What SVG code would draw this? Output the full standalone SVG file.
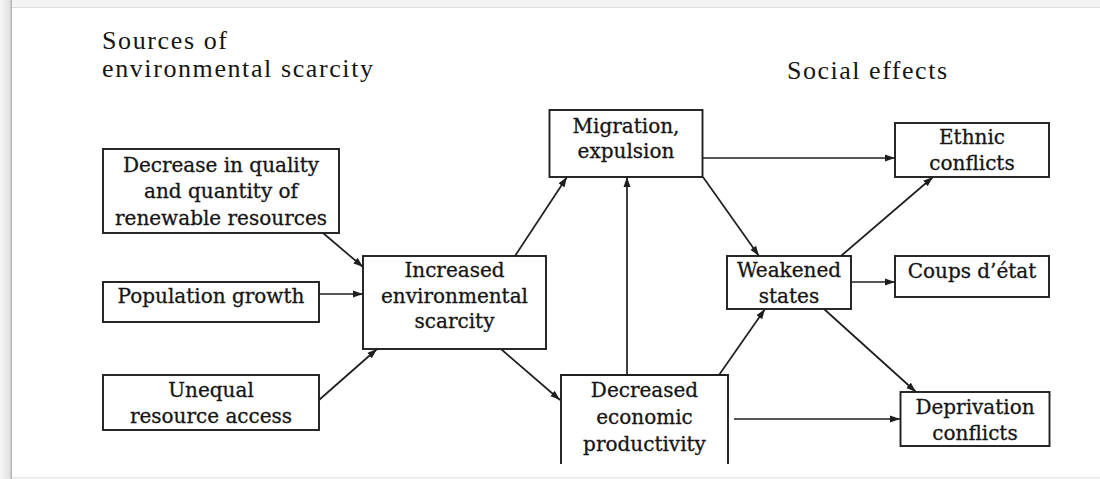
<svg xmlns="http://www.w3.org/2000/svg" width="1100" height="479" viewBox="0 0 1100 479">
<style>
.box{fill:#fff;stroke:#1e1e1e;stroke-width:1.9}
.t{font-family:"DejaVu Serif","Liberation Serif",serif;font-size:20px;fill:#151515;stroke:#151515;stroke-width:0.3;text-anchor:middle}
.h{font-family:"Liberation Serif","Times New Roman",serif;font-size:26px;fill:#151515}
.c{fill:none;stroke:#1e1e1e;stroke-width:1.7;marker-end:url(#ah)}
</style>
<defs>
<marker id="ah" markerUnits="userSpaceOnUse" markerWidth="11" markerHeight="8" refX="10" refY="4" orient="auto">
<path d="M0,0.5 L10,4 L0,7.5 z" fill="#1e1e1e"/>
</marker>
<linearGradient id="lg" x1="0" x2="1" y1="0" y2="0">
<stop offset="0" stop-color="#f7f7f7"/>
<stop offset="0.8" stop-color="#e2e2e2"/>
<stop offset="1" stop-color="#a8a8a8"/>
</linearGradient>
</defs>
<g id="frame">
<rect x="0" y="0" width="1100" height="479" fill="#f4f4f4"/>
<rect x="0" y="0" width="12" height="479" fill="url(#lg)"/>
<rect x="12" y="8" width="1088" height="469" fill="#fff"/>
<line x1="12" y1="7.5" x2="1100" y2="7.5" stroke="#dcdcdc" stroke-width="1"/>
<line x1="12" y1="477.5" x2="1100" y2="477.5" stroke="#e8e8e8" stroke-width="1"/>
</g>
<g id="headings">
<text class="h" x="102" y="49" textLength="125" lengthAdjust="spacing">Sources of</text>
<text class="h" x="102" y="77" textLength="271" lengthAdjust="spacing">environmental scarcity</text>
<text class="h" x="787" y="79" textLength="160" lengthAdjust="spacing">Social effects</text>
</g>
<g id="connectors">
<path class="c" d="M323,233 L363,267"/>
<path class="c" d="M319,294 L363,294"/>
<path class="c" d="M319,400 L377,349"/>
<path class="c" d="M515,256 L567,177"/>
<path class="c" d="M501,349 L560,400"/>
<path class="c" d="M627,375 L627,177"/>
<path class="c" d="M703,158 L895,158"/>
<path class="c" d="M703,177 L759,256"/>
<path class="c" d="M719,375 L765,309"/>
<path class="c" d="M841,256 L933,177"/>
<path class="c" d="M851,282 L895,282"/>
<path class="c" d="M824,309 L916,392"/>
<path class="c" d="M734,419 L900,419"/>
</g>
<g id="decrease">
<rect class="box" x="103" y="149" width="236" height="84"/>
<text class="t" x="221" y="172">Decrease in quality</text>
<text class="t" x="221" y="198">and quantity of</text>
<text class="t" x="221" y="225">renewable resources</text>
</g>
<g id="population">
<rect class="box" x="103" y="282" width="216" height="40"/>
<text class="t" x="211" y="303">Population growth</text>
</g>
<g id="unequal">
<rect class="box" x="103" y="375" width="216" height="55"/>
<text class="t" x="211" y="397">Unequal</text>
<text class="t" x="211" y="423">resource access</text>
</g>
<g id="increased">
<rect class="box" x="363" y="256" width="183" height="93"/>
<text class="t" x="454.5" y="277">Increased</text>
<text class="t" x="454.5" y="303">environmental</text>
<text class="t" x="454.5" y="328">scarcity</text>
</g>
<g id="migration">
<rect class="box" x="549.5" y="110" width="153" height="67"/>
<text class="t" x="626" y="133">Migration,</text>
<text class="t" x="626" y="158">expulsion</text>
</g>
<g id="decreased">
<path class="box" d="M561,464 V375 H728 V464"/>
<text class="t" x="644.5" y="397">Decreased</text>
<text class="t" x="644.5" y="424">economic</text>
<text class="t" x="644.5" y="451">productivity</text>
</g>
<g id="weakened">
<rect class="box" x="727" y="256" width="124" height="53"/>
<text class="t" x="789" y="277">Weakened</text>
<text class="t" x="789" y="303">states</text>
</g>
<g id="ethnic">
<rect class="box" x="895" y="123" width="154" height="54"/>
<text class="t" x="972" y="144">Ethnic</text>
<text class="t" x="972" y="170">conflicts</text>
</g>
<g id="coups">
<rect class="box" x="895" y="256" width="154" height="41"/>
<text class="t" x="972" y="278">Coups d’état</text>
</g>
<g id="deprivation">
<rect class="box" x="900.5" y="392" width="149" height="54"/>
<text class="t" x="975" y="414">Deprivation</text>
<text class="t" x="975" y="440">conflicts</text>
</g>
</svg>
